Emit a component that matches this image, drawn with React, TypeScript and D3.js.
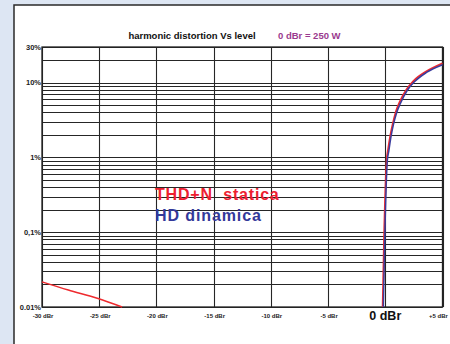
import React from "react";
import * as d3 from "d3";

const xTicks = [-30, -25, -20, -15, -10, -5, 0, 5];
const xTickLabels = ["-30 dBr", "-25 dBr", "-20 dBr", "-15 dBr", "-10 dBr", "-5 dBr", "0 dBr", "+5 dBr"];
const yTicks = [30, 10, 1, 0.1, 0.01];
const yTickLabels = ["30%", "10%", "1%", "0,1%", "0.01%"];

// THD+N statica (red) – low level segment
const redLowDbr = [-30, -27.7, -25.1, -23.0];
const redLowPct = [0.0217, 0.0169, 0.0130, 0.01];
// THD+N statica (red) – clipping segment
const redHighDbr = [-0.23, -0.11, 0.12, 0.25, 0.45, 0.65, 0.95, 1.25, 1.85, 2.45, 3.6, 5];
const redHighPct = [0.01, 0.08, 0.91, 1.3, 2.0, 2.8, 4.2, 5.5, 8.1, 10.5, 14.2, 18.2];
// HD dinamica (blue)
const blueDbr = [-0.17, -0.05, 0.18, 0.3, 0.5, 0.7, 1.0, 1.3, 1.9, 2.5, 3.6, 5];
const bluePct = [0.01, 0.078, 0.91, 1.2, 1.9, 2.7, 4.0, 5.2, 7.8, 10.1, 13.7, 17.4];

const W = 450, H = 344;
const L = 42, R = 442.5, T = 47, B = 307;

export default function App() {
  const x = d3.scaleLinear().domain([-30, 5]).range([L, R]);
  const y = d3.scaleLog().domain([0.01, 30]).range([B, T]);
  const grid = y.ticks();
  const line = d3
    .line<[number, number]>()
    .x((d) => x(d[0]))
    .y((d) => y(d[1]))
    .curve(d3.curveMonotoneX);
  const zip = (a: number[], b: number[]) => a.map((v, i) => [v, b[i]] as [number, number]);
  const font = "'Liberation Sans', Arial, sans-serif";
  return (
    <svg width={W} height={H} style={{ position: "absolute", left: 0, top: 0 }} fontFamily={font}>
      <rect x={0} y={0} width={W} height={H} fill="#dde6f3" />
      <rect x={14} y={5} width={W + 20} height={H + 20} fill="#ffffff" stroke="#2a2a2a" strokeWidth={1.5} />
      <text x={192} y={39} textAnchor="middle" fontSize={9.5} fontWeight="bold" fill="#111">
        harmonic distortion Vs level
      </text>
      <text x={278} y={39} fontSize={9.5} fontWeight="bold" fill="#9a3a8e">
        0 dBr = 250 W
      </text>
      {grid.map((g, i) => (
        <line key={"h" + i} x1={L} x2={R} y1={Math.round(y(g)) + 0.5} y2={Math.round(y(g)) + 0.5} stroke="#262626" strokeWidth={1.1} />
      ))}
      {xTicks.map((t, i) => (
        <line key={"v" + i} x1={Math.round(x(t)) + 0.5} x2={Math.round(x(t)) + 0.5} y1={T} y2={B} stroke="#262626" strokeWidth={1.1} />
      ))}
      <rect x={L} y={T} width={R - L} height={B - T} fill="none" stroke="#222" strokeWidth={1.3} />
      {yTicks.map((t, i) => (
        <text key={"yl" + i} x={L - 1} y={y(t) + 2.5} textAnchor="end" fontSize={7.5} fontWeight="bold" fill="#222">
          {yTickLabels[i]}
        </text>
      ))}
      {xTicks.map((t, i) =>
        t === 0 ? (
          <text key={"xl" + i} x={x(t)} y={320} textAnchor="middle" fontSize={12.5} fontWeight="bold" fill="#111">
            {xTickLabels[i]}
          </text>
        ) : (
          <text key={"xl" + i} x={t === 5 ? x(t) - 4 : x(t) + 1} y={318} textAnchor="middle" fontSize={6} fontWeight="bold" fill="#222">
            {xTickLabels[i]}
          </text>
        )
      )}
      <path d={line(zip(redLowDbr, redLowPct)) || ""} fill="none" stroke="#ee2a2e" strokeWidth={1.5} />
      <path d={line(zip(redHighDbr, redHighPct)) || ""} fill="none" stroke="#ee2a2e" strokeWidth={1.8} />
      <path d={line(zip(blueDbr, bluePct)) || ""} fill="none" stroke="#3a3c9e" strokeWidth={1.5} />
      <text x={155} y={199.5} fontSize={16} fontWeight="bold" fill="#ee2030" letterSpacing={0.8} style={{ whiteSpace: "pre" }}>
        {"THD+N  statica"}
      </text>
      <text x={155} y={221} fontSize={16} fontWeight="bold" fill="#33399a" letterSpacing={0.9}>
        HD dinamica
      </text>
    </svg>
  );
}
